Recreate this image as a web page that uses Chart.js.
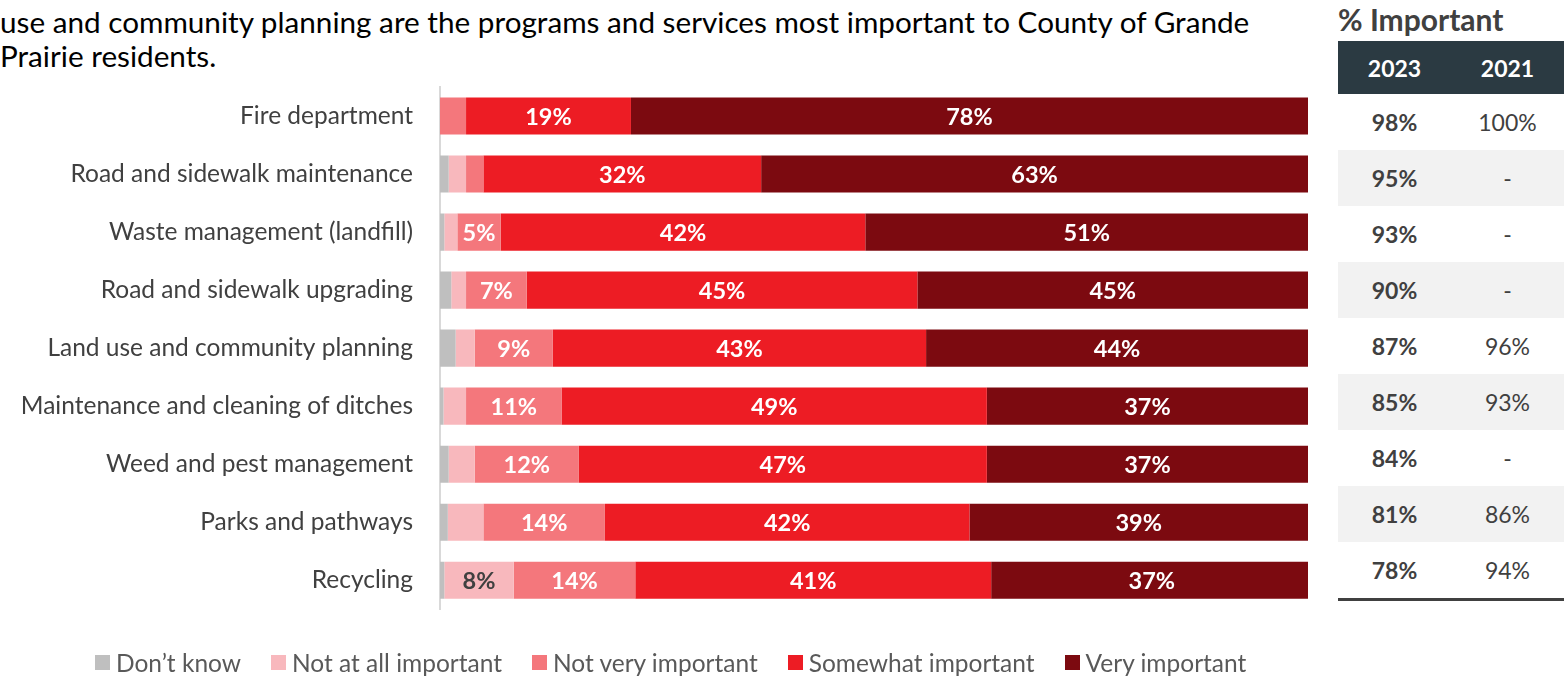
<!DOCTYPE html>
<html>
<head>
<meta charset="utf-8">
<script src="https://cdn.jsdelivr.net/npm/chart.js@4.4.1/dist/chart.umd.min.js"></script>
<style>
  body { margin: 0; width: 1564px; height: 676px; overflow: hidden; background: #fff; font-family: Lato, sans-serif; position: relative; }
  #headline { position: absolute; left: 0; top: 5px; font-size: 29.7px; line-height: 34px; color: #000; white-space: nowrap; }
  #chartBox { position: absolute; left: 0; top: 0; width: 1320px; height: 651px; }
  #legend { position: absolute; left: 95px; top: 648px; display: flex; gap: 30px; font-size: 24.5px; color: #595959; white-space: nowrap; }
  .key { display: flex; align-items: center; }
  .key i { width: 15px; height: 15px; margin-right: 6px; display: inline-block; }
  #summary { position: absolute; left: 1338px; top: 0; width: 226px; color: #404040; }
  #summary h3 { margin: 0; height: 41px; line-height: 38px; font-size: 30px; font-weight: 700; white-space: nowrap; }
  #summary table { border-collapse: collapse; width: 226px; font-size: 23px; }
  #summary th { background: #2b3a42; color: #fff; height: 53px; font-weight: 700; text-align: center; width: 50%; padding: 0; }
  #summary td { height: 56px; text-align: center; padding: 0; }
  #summary td.now { font-weight: 700; }
  #summary tr.shade td { background: #f2f2f2; }
  #summary tr.last td { border-bottom: 3px solid #404040; }
</style>
</head>
<body>
<div id="headline">use and community planning are the programs and services most important to County of Grande<br>Prairie residents.</div>
<div id="chartBox"><canvas id="importance"></canvas></div>
<div id="legend"></div>
<div id="summary">
  <h3>% Important</h3>
  <table id="summaryTable"></table>
</div>
<script>
// survey results, % of residents
var services = [
  'Fire department',
  'Road and sidewalk maintenance',
  'Waste management (landfill)',
  'Road and sidewalk upgrading',
  'Land use and community planning',
  'Maintenance and cleaning of ditches',
  'Weed and pest management',
  'Parks and pathways',
  'Recycling'
];
var dontKnow  = [0, 1, 0.5, 1.3, 1.8, 0.4, 1, 0.9, 0.5];
var notAtAll  = [0, 2, 1.5, 1.7, 2.2, 2.6, 3, 4.1, 8];
var notVery   = [3, 2, 5, 7, 9, 11, 12, 14, 14];
var somewhat  = [19, 32, 42, 45, 43, 49, 47, 42, 41];
var very      = [78, 63, 51, 45, 44, 37, 37, 39, 37];

var important2023 = [98, 95, 93, 90, 87, 85, 84, 81, 78];
var important2021 = [100, null, null, null, 96, 93, null, 86, 94];

var seriesNames  = ["Don\u2019t know", 'Not at all important', 'Not very important', 'Somewhat important', 'Very important'];
var seriesColors = ['#bfbfbf', '#f8b8bd', '#f4777c', '#ed1c24', '#7c0a10'];
var seriesValues = [dontKnow, notAtAll, notVery, somewhat, very];

// percentage labels inside the bars (only segments of 5% or more)
var barLabels = {
  id: 'barLabels',
  afterDatasetsDraw: function(chart) {
    var ctx = chart.ctx;
    ctx.save();
    ctx.font = 'bold 23.5px Lato';
    ctx.textAlign = 'center';
    ctx.textBaseline = 'middle';
    chart.data.datasets.forEach(function(ds, di) {
      var meta = chart.getDatasetMeta(di);
      meta.data.forEach(function(bar, i) {
        var v = ds.data[i];
        if (v < 5) return;
        var p = bar.getProps(['x', 'y', 'base'], true);
        ctx.fillStyle = di === 1 ? '#404040' : '#ffffff';
        ctx.fillText(Math.round(v) + '%', (p.x + p.base) / 2, p.y + 1);
      });
    });
    ctx.restore();
  }
};

var config = {
  type: 'bar',
  data: {
    labels: services,
    datasets: seriesValues.map(function(vals, i) {
      return {
        label: seriesNames[i],
        data: vals,
        backgroundColor: seriesColors[i],
        borderWidth: 0,
        barPercentage: 0.64,
        categoryPercentage: 1
      };
    })
  },
  options: {
    indexAxis: 'y',
    responsive: true,
    maintainAspectRatio: false,
    animation: false,
    // bottom space comes from the y tick padding (label half height + 27)
    layout: { padding: { top: 87, right: 12, bottom: 0 } },
    plugins: {
      legend: { display: false },
      tooltip: { enabled: false }
    },
    scales: {
      x: { stacked: true, min: 0, max: 100, display: false },
      y: {
        stacked: true,
        grid: { display: false, drawTicks: false },
        border: { color: '#d9d9d9', width: 2 },
        ticks: { color: '#404040', font: { family: 'Lato', size: 24.5 }, padding: 27 },
        afterFit: function(scale) { scale.width = 440; }
      }
    }
  },
  plugins: [barLabels]
};

window.onload = function() {
  var ctx = document.getElementById('importance').getContext('2d');
  window.importanceChart = new Chart(ctx, config);

  var legend = document.getElementById('legend');
  seriesNames.forEach(function(name, i) {
    var key = document.createElement('span');
    key.className = 'key';
    key.innerHTML = '<i style="background:' + seriesColors[i] + '"></i>' + name;
    legend.appendChild(key);
  });

  var table = document.getElementById('summaryTable');
  var html = '<tr><th>2023</th><th>2021</th></tr>';
  important2023.forEach(function(v, i) {
    var cls = [];
    if (i % 2 === 1) cls.push('shade');
    if (i === important2023.length - 1) cls.push('last');
    var old = important2021[i] === null ? '-' : important2021[i] + '%';
    html += '<tr class="' + cls.join(' ') + '"><td class="now">' + v + '%</td><td>' + old + '</td></tr>';
  });
  table.innerHTML = html;
};
</script>
</body>
</html>
